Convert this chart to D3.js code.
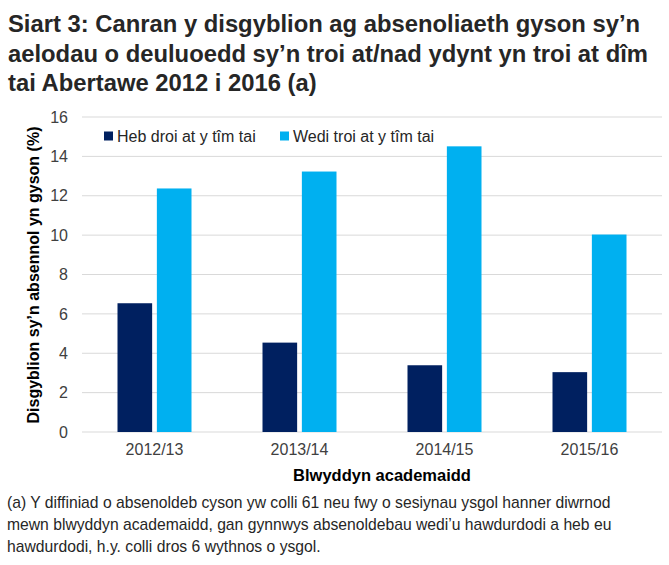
<!DOCTYPE html>
<html>
<head>
<meta charset="utf-8">
<script src="https://cdn.jsdelivr.net/npm/d3@7"></script>
<style>
  body { margin: 0; background: #fff; }
  text { font-family: "Liberation Sans", Arial, sans-serif; }
</style>
</head>
<body>
<div id="chart"></div>
<script>
// chart data
var years = ["2012/13", "2013/14", "2014/15", "2015/16"];
var seriesNames = ["Heb droi at y tîm tai", "Wedi troi at y tîm tai"];
var notReferred = [6.54, 4.54, 3.39, 3.04];
var referred = [12.37, 13.23, 14.51, 10.03];
var yTicks = [0, 2, 4, 6, 8, 10, 12, 14, 16];
var colours = ["#002060", "#00B0F0"];

var titleLines = [
    "Siart 3: Canran y disgyblion ag absenoliaeth gyson sy\u2019n",
    "aelodau o deuluoedd sy\u2019n troi at/nad ydynt yn troi at dîm",
    "tai Abertawe 2012 i 2016 (a)"
];
var noteLines = [
    "(a) Y diffiniad o absenoldeb cyson yw colli 61 neu fwy o sesiynau ysgol hanner diwrnod",
    "mewn blwyddyn academaidd, gan gynnwys absenoldebau wedi\u2019u hawdurdodi a heb eu",
    "hawdurdodi, h.y. colli dros 6 wythnos o ysgol."
];

var width = 669, height = 565;
var margin = { top: 117, right: 7, bottom: 133, left: 82 };
var plotW = width - margin.left - margin.right,
    plotH = height - margin.top - margin.bottom;

var svg = d3.select("#chart").append("svg")
    .attr("width", width)
    .attr("height", height);

// title
svg.append("g").selectAll("text")
    .data(titleLines)
    .enter().append("text")
    .attr("x", 8)
    .attr("y", function(d, i) { return 32 + i * 29.5; })
    .style("font-size", "23.8px")
    .style("font-weight", "bold")
    .style("fill", "#262626")
    .text(function(d) { return d; });

var g = svg.append("g")
    .attr("transform", "translate(" + margin.left + "," + margin.top + ")");

var x0 = d3.scaleBand().domain(years).range([0, plotW]);
var x1 = d3.scaleBand().domain(seriesNames)
    .range([x0.bandwidth() / 2 - 37, x0.bandwidth() / 2 + 37])
    .paddingInner(0.12);
var y = d3.scaleLinear().domain([0, 16]).range([plotH, 0]);

// gridlines
g.selectAll(".grid")
    .data(yTicks)
    .enter().append("line")
    .attr("class", "grid")
    .attr("x1", 0).attr("x2", plotW)
    .attr("y1", function(d) { return y(d); })
    .attr("y2", function(d) { return y(d); })
    .style("stroke", "#d9d9d9")
    .style("stroke-width", 1);

// y axis
var yAxis = g.append("g")
    .call(d3.axisLeft(y).tickValues(yTicks).tickSize(0).tickPadding(14));
yAxis.select(".domain").remove();
yAxis.selectAll("text")
    .style("font-size", "16px")
    .style("fill", "#404040");

// x axis
var xAxis = g.append("g")
    .attr("transform", "translate(0," + plotH + ")")
    .call(d3.axisBottom(x0).tickSize(0).tickPadding(12));
xAxis.select(".domain").remove();
xAxis.selectAll("text")
    .style("font-size", "16px")
    .style("fill", "#404040");

// bars
var rows = years.map(function(yr, i) {
    return { year: yr, values: [notReferred[i], referred[i]] };
});
var groups = g.selectAll(".yr")
    .data(rows)
    .enter().append("g")
    .attr("transform", function(d) { return "translate(" + x0(d.year) + ",0)"; });
groups.selectAll("rect")
    .data(function(d) {
        return d.values.map(function(v, k) { return { key: seriesNames[k], value: v, k: k }; });
    })
    .enter().append("rect")
    .attr("x", function(d) { return x1(d.key); })
    .attr("width", x1.bandwidth())
    .attr("y", function(d) { return y(d.value); })
    .attr("height", function(d) { return plotH - y(d.value); })
    .style("fill", function(d) { return colours[d.k]; });

// axis titles
svg.append("text")
    .attr("transform", "translate(39,275) rotate(-90)")
    .attr("text-anchor", "middle")
    .style("font-size", "16px")
    .style("font-weight", "bold")
    .style("fill", "#000")
    .text("Disgyblion sy\u2019n absennol yn gyson (%)");

svg.append("text")
    .attr("x", margin.left + plotW / 2 + 10)
    .attr("y", 481)
    .attr("text-anchor", "middle")
    .style("font-size", "16.5px")
    .style("font-weight", "bold")
    .style("fill", "#000")
    .text("Blwyddyn academaidd");

// legend
var legendX = [104, 280];
var legend = svg.selectAll(".legend")
    .data(seriesNames)
    .enter().append("g")
    .attr("transform", function(d, i) { return "translate(" + legendX[i] + ",136)"; });
legend.append("rect")
    .attr("x", 0).attr("y", -4.5)
    .attr("width", 9).attr("height", 9)
    .style("fill", function(d, i) { return colours[i]; });
legend.append("text")
    .attr("x", 13).attr("y", 6)
    .style("font-size", "16px")
    .style("fill", "#262626")
    .text(function(d) { return d; });

// footnote
svg.append("g").selectAll("text")
    .data(noteLines)
    .enter().append("text")
    .attr("x", 7)
    .attr("y", function(d, i) { return 508 + i * 22; })
    .style("font-size", "15.7px")
    .style("fill", "#262626")
    .text(function(d) { return d; });
</script>
</body>
</html>
